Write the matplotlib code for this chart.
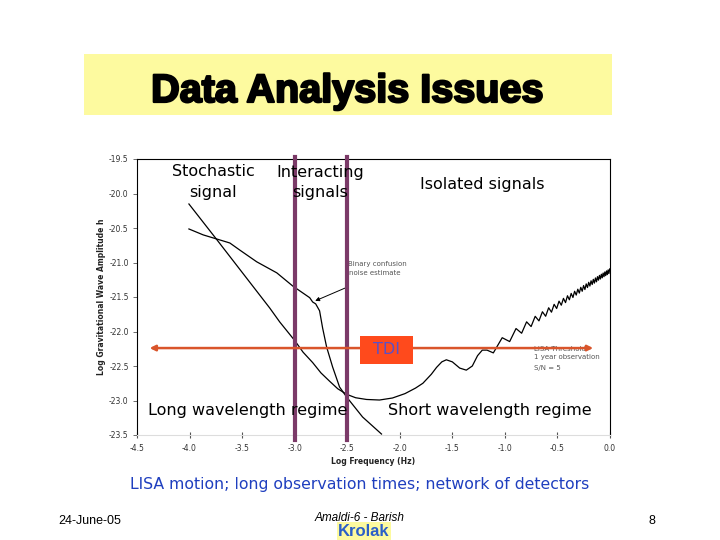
import matplotlib
matplotlib.use("Agg")
import matplotlib.pyplot as plt
from matplotlib.patches import Rectangle
import matplotlib.patheffects as pe

# ---------------- data ----------------
# Curve B: LISA instrument sensitivity (threshold) curve
sens_x = [-4.006, -3.74, -3.237, -3.142, -3.0, -2.92, -2.829, -2.75, -2.668, -2.59, -2.506,
          -2.42, -2.316, -2.193, -2.07, -1.95, -1.85, -1.78, -1.70, -1.65, -1.60, -1.557,
          -1.50, -1.43, -1.367, -1.31, -1.26, -1.215, -1.17, -1.11, -1.06, -1.0255,
          -0.9547, -0.894, -0.8407, -0.7935, -0.7506, -0.7117, -0.6759, -0.643,
          -0.6123, -0.5837, -0.5567, -0.5315, -0.5075, -0.4849, -0.4633, -0.4428,
          -0.4232, -0.4045, -0.3865, -0.3693, -0.3526, -0.3367, -0.3212, -0.3064,
          -0.2919, -0.278, -0.2645, -0.2514, -0.2387, -0.2264, -0.2143, -0.2027,
          -0.1913, -0.1802, -0.1693, -0.1588, -0.1485, -0.1384, -0.1286, -0.119,
          -0.1096, -0.1004, -0.0913, -0.0825, -0.0739, -0.0654, -0.0570, -0.0489,
          -0.0409, -0.033, -0.0253, -0.0177, -0.0102, -0.0029]
sens_y = [-20.152, -20.67, -21.66, -21.862, -22.13, -22.30, -22.45, -22.60, -22.72, -22.83,
          -22.91, -22.96, -22.985, -22.993, -22.964, -22.90, -22.82, -22.75, -22.62, -22.52,
          -22.44, -22.41, -22.44, -22.53, -22.56, -22.50, -22.35, -22.27, -22.27, -22.31,
          -22.18, -22.09,
          -22.146, -21.957, -22.025, -21.860, -21.928, -21.780, -21.846, -21.714,
          -21.779, -21.656, -21.720, -21.606, -21.667, -21.560, -21.619, -21.520,
          -21.581, -21.482, -21.540, -21.448, -21.507, -21.417, -21.472, -21.387,
          -21.443, -21.360, -21.417, -21.334, -21.392, -21.310, -21.363, -21.287,
          -21.341, -21.265, -21.319, -21.244, -21.299, -21.224, -21.280, -21.205,
          -21.256, -21.187, -21.239, -21.170, -21.222, -21.153, -21.205, -21.137,
          -21.190, -21.122, -21.175, -21.107, -21.160, -21.093]

# Curve A: binary confusion noise estimate
conf_x = [-4.006, -3.87, -3.74, -3.617, -3.522, -3.361, -3.17, -3.019, -2.857, -2.829,
          -2.80, -2.763, -2.734, -2.696, -2.639, -2.573, -2.506, -2.354, -2.174]
conf_y = [-20.514, -20.60, -20.66, -20.717, -20.82, -20.99, -21.15, -21.34, -21.51, -21.572,
          -21.60, -21.70, -21.95, -22.225, -22.514, -22.804, -22.949, -23.239, -23.486]

x_ticks = [-4.5, -4.0, -3.5, -3.0, -2.5, -2.0, -1.5, -1.0, -0.5, 0.0]
x_tick_labels = ["-4.5", "-4.0", "-3.5", "-3.0", "-2.5", "-2.0", "-1.5", "-1.0", "-0.5", "0.0"]
y_ticks = [-19.5, -20.0, -20.5, -21.0, -21.5, -22.0, -22.5, -23.0, -23.5]
y_tick_labels = ["-19.5", "-20.0", "-20.5", "-21.0", "-21.5", "-22.0", "-22.5", "-23.0", "-23.5"]

regime_bounds = [-3.0, -2.5]          # purple vertical lines
tdi_range = [-4.38, -0.16]            # orange double arrow
tdi_level = -22.24

W, H = 720, 540
fig = plt.figure(figsize=(7.2, 5.4), dpi=100)
fig.patch.set_facecolor("white")


def P(x, y):
    return (x / W, 1 - y / H)


# ---------------- title box ----------------
fig.patches.append(Rectangle(P(84, 115), (612 - 84) / W, (115 - 54) / H,
                             transform=fig.transFigure, facecolor="#fdfa9f",
                             edgecolor="none", zorder=0))
fig.text(*P(347.5, 102), "Data Analysis Issues", ha="center", va="baseline",
         fontsize=28.5, fontweight="bold", family="Liberation Sans", color="black",
         path_effects=[pe.withStroke(linewidth=1.6, foreground="black")])

# ---------------- axes ----------------
ax = fig.add_axes([137 / W, 1 - 435 / H, (610 - 137) / W, (435 - 159) / H])
ax.set_xlim(-4.5, 0.0)
ax.set_ylim(-23.5, -19.5)
ax.plot(sens_x, sens_y, color="black", lw=0.9, zorder=3)
ax.plot(conf_x, conf_y, color="black", lw=0.9, zorder=3)

ax.set_xticks(x_ticks)
ax.set_xticklabels(x_tick_labels)
ax.set_yticks(y_ticks)
ax.set_yticklabels(y_tick_labels)
ax.tick_params(axis="y", direction="out", length=3, width=0.6, colors="#555555",
               labelsize=5.5, pad=3)
ax.tick_params(axis="x", direction="inout", length=5, width=0.8, colors="#555555",
               labelsize=5.5, pad=4)
for lab in ax.get_xticklabels() + ax.get_yticklabels():
    lab.set_color("#333333")
for s in ["left", "top", "right"]:
    ax.spines[s].set_color("black")
    ax.spines[s].set_linewidth(0.8)
ax.spines["bottom"].set_color("#dddddd")
ax.spines["bottom"].set_linewidth(0.8)

ax.set_xlabel("Log Frequency (Hz)", fontsize=5.5, fontweight="bold", labelpad=3,
              color="#222222")
ax.set_ylabel("Log Gravitational Wave Amplitude h", fontsize=5.5, fontweight="bold",
              labelpad=2, color="#222222")

# small annotation texts of the original chart
ax.text(-2.497, -21.02, "Binary confusion", fontsize=5, color="#555555", va="center")
ax.text(-2.48, -21.15, "noise estimate", fontsize=5, color="#555555", va="center")
ax.annotate("", xy=(-2.829, -21.572), xytext=(-2.497, -21.355),
            arrowprops=dict(arrowstyle="-|>", color="black", lw=0.7,
                            mutation_scale=6), zorder=4)
ax.text(-0.72, -22.25, "LISA Threshold", fontsize=5, color="#555555", va="center")
ax.text(-0.72, -22.37, "1 year observation", fontsize=5, color="#555555", va="center")
ax.text(-0.72, -22.53, "S/N = 5", fontsize=5, color="#555555", va="center")

# purple regime lines
for xb in regime_bounds:
    ax.axvline(xb, ymin=-0.018, ymax=1.007, color="#7b3a68", lw=3.0,
               clip_on=False, zorder=5)

# orange double arrow (TDI)
ax.annotate("", xy=(tdi_range[0], tdi_level), xytext=(tdi_range[1], tdi_level),
            arrowprops=dict(arrowstyle="<|-|>", color="#d9552b", lw=1.8,
                            mutation_scale=8, shrinkA=0, shrinkB=0), zorder=6)

# ---------------- overlay texts ----------------
big = dict(fontsize=11.5, family="DejaVu Sans", color="black", ha="center", va="center",
           zorder=10)
fig.text(*P(213, 172), "Stochastic", **big)
fig.text(*P(213, 193), "signal", **big)
fig.text(*P(320.5, 172), "Interacting", **big)
fig.text(*P(320.5, 193), "signals", **big)
fig.text(*P(482.5, 184), "Isolated signals", **big)
fig.text(*P(247.5, 411), "Long wavelength regime", **big)
fig.text(*P(490, 411), "Short wavelength regime", **big)

fig.patches.append(Rectangle(P(360, 364), (413 - 360) / W, (364 - 336) / H,
                             transform=fig.transFigure, facecolor="#ff4a1c",
                             edgecolor="none", zorder=11))
fig.text(*P(386.5, 350), "TDI", fontsize=11.5, color="#5a50c8", ha="center", va="center",
         zorder=12)

fig.text(*P(359.5, 484), "LISA motion; long observation times; network of detectors",
         fontsize=11.3, color="#1f3fbf", ha="center", va="center")

# ---------------- footer ----------------
fig.text(*P(90, 521), "24-June-05", fontsize=9, family="Liberation Sans",
         ha="center", va="center", color="black")
fig.text(*P(652, 521), "8", fontsize=9, family="Liberation Sans",
         ha="center", va="center", color="black")
fig.text(*P(364, 531), "Krolak", fontsize=12, fontweight="bold", family="Liberation Sans",
         color="#2b5fc8", ha="center", va="center", zorder=2,
         bbox=dict(boxstyle="square,pad=0.1", facecolor="#fdfa9f", edgecolor="none"))
fig.text(*P(360, 518), "Amaldi-6 - Barish", fontsize=8.5, family="Liberation Sans",
         style="italic", ha="center", va="center", color="black", zorder=3)

fig.savefig("out.png", dpi=100, facecolor="white")
